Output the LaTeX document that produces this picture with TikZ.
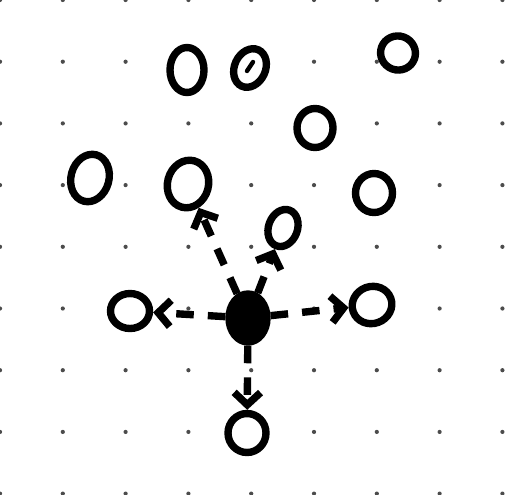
\documentclass[tikz,border=0pt]{standalone}
\usepackage{tikz}
\usetikzlibrary{arrows.meta, shapes.geometric}

\begin{document}
\begin{tikzpicture}[
    x=0.02cm, y=-0.02cm,
    ring/.style={draw, fill=white, ellipse, line width=4.2pt, inner sep=0pt},
    core/.style={ring, fill=black},
    probe/.style={line width=4.2pt, dash pattern=on 10pt off 8pt, -{Straight Barb[length=7pt, width=15pt]}},
    griddot/.style={fill=black!70}
]

\useasboundingbox (0,0) rectangle (506,494);

% Grille de points
\foreach \i in {0,...,8}
  \foreach \j in {0,...,8}
    \fill[griddot] (62.8*\i, 61.7*\j) circle[radius=1.2pt];

% Bulles libres
\node[ring, minimum width=0.68cm, minimum height=0.9cm] (A) at (187,70) {};
\node[ring, minimum width=0.62cm, minimum height=0.8cm, rotate=-25] (B) at (250,68) {};
\node[ring, minimum width=0.7cm, minimum height=0.68cm, rotate=-20] (C) at (398,53) {};
\node[ring, minimum width=0.72cm, minimum height=0.78cm] (D) at (315,128) {};
\node[ring, minimum width=0.76cm, minimum height=0.96cm, rotate=-15] (E) at (90,178) {};
\node[ring, minimum width=0.74cm, minimum height=0.78cm] (G) at (374,193) {};
\draw[line width=2.5pt, line cap=round] (247,71) -- (253,62);

% Bulles reliees
\node[ring, minimum width=0.82cm, minimum height=0.96cm, rotate=-15] (F) at (188,184) {};
\node[ring, minimum width=0.58cm, minimum height=0.76cm, rotate=-20] (H) at (283,228) {};
\node[ring, minimum width=0.78cm, minimum height=0.7cm] (L) at (130,311) {};
\node[ring, minimum width=0.8cm, minimum height=0.74cm, rotate=20] (R) at (372,305) {};
\node[ring, minimum width=0.76cm, minimum height=0.78cm] (S) at (247,433) {};

% Centre
\node[core, minimum width=0.76cm, minimum height=0.96cm] (hub) at (248,318) {};

% Liens
\draw[probe] (hub) -- (F);
\draw[probe] (hub) -- (H);
\draw[probe] (hub) -- (L);
\draw[probe] (hub) -- (R);
\draw[probe] (hub) -- (S);

\end{tikzpicture}
\end{document}
